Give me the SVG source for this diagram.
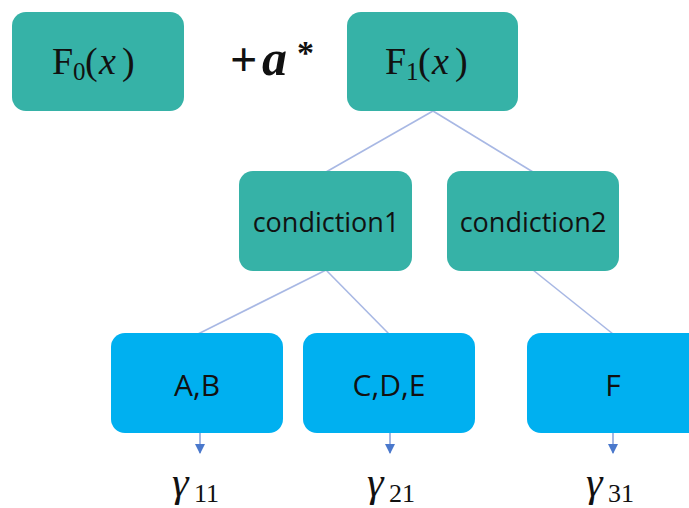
<svg xmlns="http://www.w3.org/2000/svg" width="689" height="508" viewBox="0 0 689 508">
<defs>
<style>
.teal{fill:#36B2A7}
.blue{fill:#00B0F0}
.math{font-family:"Liberation Serif","DejaVu Serif",serif;fill:#111}
.lbl{font-family:"Open Sans","Liberation Sans",sans-serif;font-size:27px;fill:#111;text-anchor:middle}
.lbl2{font-family:"Open Sans","Liberation Sans",sans-serif;font-size:30px;fill:#111;text-anchor:middle}
.edge{stroke:#A8B8E4;stroke-width:1.6;fill:none}
.out{stroke:#8FA6DC;stroke-width:1.6;fill:none}
</style>
<marker id="ah" viewBox="0 0 10 10" refX="9" refY="5" markerWidth="11" markerHeight="10" markerUnits="userSpaceOnUse" orient="auto">
<path d="M0,0 L10,5 L0,10 Z" fill="#4A78CC"/>
</marker>
</defs>
<rect width="689" height="508" fill="#fff"/>
<g id="connectors">
<line class="edge" x1="433" y1="111" x2="326" y2="172"/>
<line class="edge" x1="433" y1="111" x2="533" y2="172"/>
<line class="edge" x1="326" y1="270" x2="198" y2="334"/>
<line class="edge" x1="326" y1="270" x2="389" y2="334"/>
<line class="edge" x1="533" y1="270" x2="613" y2="334"/>
<line class="out" x1="200" y1="425" x2="200" y2="453" marker-end="url(#ah)"/>
<line class="out" x1="390" y1="425" x2="390" y2="453" marker-end="url(#ah)"/>
<line class="out" x1="613" y1="425" x2="613" y2="453" marker-end="url(#ah)"/>
</g>
<g id="F0">
<rect class="teal" x="12" y="12" width="172" height="99" rx="14"/>
<text class="math" font-size="38"><tspan x="52" y="74">F</tspan><tspan x="73" y="80" font-size="25">0</tspan><tspan x="85" y="74">(</tspan><tspan x="99" y="74" font-style="italic">x</tspan><tspan x="122" y="74">)</tspan></text>
</g>
<g id="plus">
<text class="math" font-size="48" font-weight="bold"><tspan x="230" y="76">+</tspan><tspan x="262" y="75" font-style="italic" font-size="50">a</tspan><tspan x="297" y="64" font-size="34">*</tspan></text>
</g>
<g id="F1">
<rect class="teal" x="347" y="12" width="171" height="99" rx="14"/>
<text class="math" font-size="38"><tspan x="385" y="74">F</tspan><tspan x="406" y="80" font-size="25">1</tspan><tspan x="418" y="74">(</tspan><tspan x="432" y="74" font-style="italic">x</tspan><tspan x="455" y="74">)</tspan></text>
</g>
<g id="condiction1">
<rect class="teal" x="239" y="171" width="173" height="100" rx="14"/>
<text class="lbl" x="326" y="232">condiction1</text>
</g>
<g id="condiction2">
<rect class="teal" x="447" y="171" width="172" height="100" rx="14"/>
<text class="lbl" x="533" y="232">condiction2</text>
</g>
<g id="AB">
<rect class="blue" x="111" y="333" width="172" height="100" rx="14"/>
<text class="lbl2" x="197" y="396">A,B</text>
</g>
<g id="CDE">
<rect class="blue" x="303" y="333" width="172" height="100" rx="14"/>
<text class="lbl2" x="389" y="396">C,D,E</text>
</g>
<g id="F">
<rect class="blue" x="527" y="333" width="180" height="100" rx="14"/>
<text class="lbl2" x="613" y="396">F</text>
</g>
<g id="gammas">
<text class="math" font-size="42"><tspan x="172" y="496" font-style="italic">γ</tspan><tspan x="194" y="502" font-size="26">11</tspan></text>
<text class="math" font-size="42"><tspan x="367" y="496" font-style="italic">γ</tspan><tspan x="389" y="502" font-size="26">21</tspan></text>
<text class="math" font-size="42"><tspan x="586" y="496" font-style="italic">γ</tspan><tspan x="608" y="502" font-size="26">31</tspan></text>
</g>
</svg>
